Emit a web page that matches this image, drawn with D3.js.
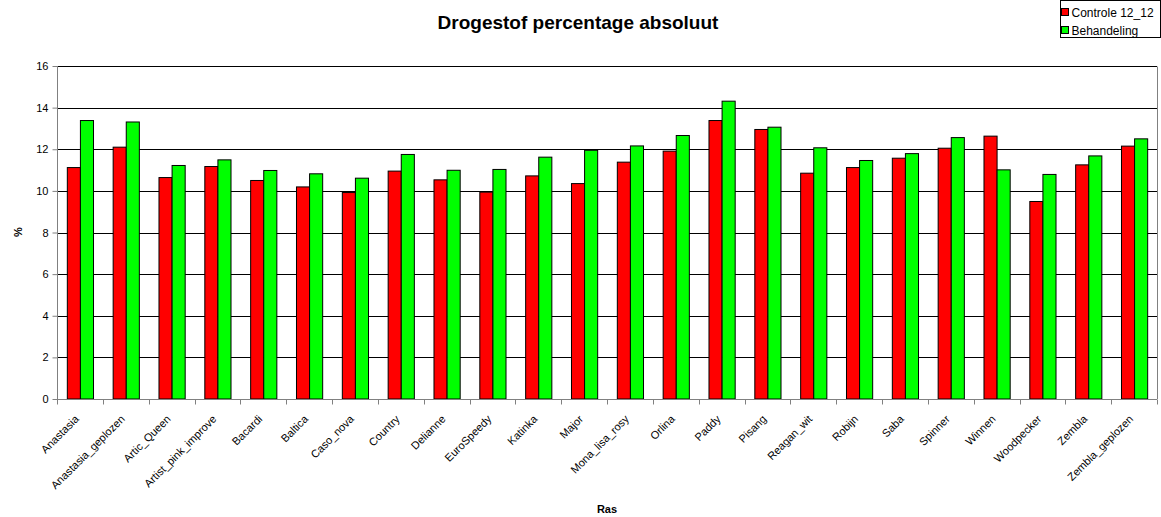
<!DOCTYPE html>
<html>
<head>
<meta charset="utf-8">
<script src="https://cdn.jsdelivr.net/npm/d3@7"></script>
<style>
  html, body { margin: 0; padding: 0; background: #fff; }
  svg { display: block; font-family: Arial, "Liberation Sans", sans-serif; }
</style>
</head>
<body>
<svg id="chart" width="1161" height="517"></svg>
<script>
// Varieties (Ras)
const categories = ["Anastasia", "Anastasia_geplozen", "Artic_Queen", "Artist_pink_improve", "Bacardi",
  "Baltica", "Caso_nova", "Country", "Delianne", "EuroSpeedy", "Katinka", "Major", "Mona_lisa_rosy",
  "Orlina", "Paddy", "Pisang", "Reagan_wit", "Robijn", "Saba", "Spinner", "Winnen", "Woodpecker",
  "Zembla", "Zembla_geplozen"];

// Dry matter percentage per variety
const controle = [11.12, 12.10, 10.64, 11.17, 10.50, 10.19, 9.92, 10.95, 10.53, 9.94, 10.72, 10.35,
  11.38, 11.91, 13.38, 12.95, 10.85, 11.12, 11.57, 12.05, 12.63, 9.49, 11.25, 12.15];
const behandeling = [13.38, 13.31, 11.22, 11.49, 10.98, 10.82, 10.61, 11.75, 10.99, 11.03, 11.62, 11.95,
  12.16, 12.66, 14.31, 13.06, 12.07, 11.46, 11.79, 12.56, 11.01, 10.79, 11.68, 12.50];

const seriesNames = ["Controle 12_12", "Behandeling"];
const seriesColors = ["#ff0000", "#00ff00"];
const yTicks = [0, 2, 4, 6, 8, 10, 12, 14, 16];

const svg = d3.select("#chart");
const plot = { left: 57, right: 1157, top: 66, bottom: 399 };

const x = d3.scaleBand().domain(categories).range([plot.left, plot.right]).paddingInner(0).paddingOuter(0);
const groupPad = 1.5 / 3.5; // gap equals 150% of a bar width
const xs = d3.scaleBand().domain([0, 1])
  .range([x.bandwidth() * groupPad / 2, x.bandwidth() * (1 - groupPad / 2)]);
const y = d3.scaleLinear().domain([0, 16]).range([plot.bottom, plot.top]);

// Horizontal gridlines
svg.append("g")
  .selectAll("line")
  .data(yTicks.filter(d => d > 0))
  .join("line")
  .attr("x1", plot.left).attr("x2", plot.right)
  .attr("y1", d => Math.round(y(d)) + 0.5).attr("y2", d => Math.round(y(d)) + 0.5)
  .attr("stroke", "#000").attr("stroke-width", 1);

// Plot area right edge
svg.append("line")
  .attr("x1", plot.right + 0.5).attr("x2", plot.right + 0.5)
  .attr("y1", Math.round(plot.top) + 0.5).attr("y2", plot.bottom)
  .attr("stroke", "#808080");

// Bars
const rows = categories.map((c, i) => ({ cat: c, vals: [controle[i], behandeling[i]] }));
const groups = svg.append("g").selectAll("g")
  .data(rows).join("g")
  .attr("transform", d => `translate(${x(d.cat)},0)`);
groups.selectAll("rect")
  .data(d => d.vals.map((v, k) => ({ v, k })))
  .join("rect")
  .attr("x", d => xs(d.k) + 0.5)
  .attr("width", xs.bandwidth())
  .attr("y", d => y(d.v))
  .attr("height", d => plot.bottom - y(d.v))
  .attr("fill", d => seriesColors[d.k])
  .attr("stroke", "#000")
  .attr("stroke-width", 1);

// Y axis
const yAxis = svg.append("g")
  .attr("transform", `translate(${plot.left + 0.5},0)`)
  .call(d3.axisLeft(y).tickValues(yTicks).tickSize(5).tickPadding(4).tickFormat(d3.format("d")));
yAxis.select(".domain").attr("stroke", "#808080").attr("d", `M0,${plot.top}V${plot.bottom}`);
yAxis.selectAll(".tick line").attr("stroke", "#808080");
yAxis.selectAll(".tick text").attr("font-size", 11).attr("fill", "#000")
  .attr("font-family", "Arial, 'Liberation Sans', sans-serif");

// X axis
const xAxis = svg.append("g")
  .attr("transform", `translate(0,${plot.bottom + 0.5})`)
  .call(d3.axisBottom(x).tickSize(0).tickFormat(""));
xAxis.select(".domain").attr("stroke", "#808080").attr("d", `M${plot.left},0H${plot.right}`);
xAxis.selectAll(".tick").remove();
// Category boundary ticks
xAxis.append("g").selectAll("line")
  .data(categories.concat(["__end"]))
  .join("line")
  .attr("x1", (d, i) => Math.round(plot.left + i * x.step()) + 0.5)
  .attr("x2", (d, i) => Math.round(plot.left + i * x.step()) + 0.5)
  .attr("y1", 0).attr("y2", 5)
  .attr("stroke", "#808080");

// Rotated category labels
svg.append("g").selectAll("text")
  .data(categories)
  .join("text")
  .attr("transform", d => `translate(${x(d) + x.bandwidth() / 2 - 3},${plot.bottom + 18}) rotate(-45)`)
  .attr("text-anchor", "end")
  .attr("dy", "0.35em")
  .attr("font-size", 11)
  .attr("fill", "#000")
  .text(d => d);

// Title
svg.append("text")
  .attr("x", 578).attr("y", 29)
  .attr("text-anchor", "middle")
  .attr("font-size", 19).attr("font-weight", "bold")
  .text("Drogestof percentage absoluut");

// Axis titles
svg.append("text")
  .attr("transform", "translate(22,232) rotate(-90)")
  .attr("text-anchor", "middle")
  .attr("font-size", 11).attr("font-weight", "bold")
  .text("%");
svg.append("text")
  .attr("x", 607).attr("y", 513)
  .attr("text-anchor", "middle")
  .attr("font-size", 11).attr("font-weight", "bold")
  .text("Ras");

// Legend
const legend = svg.append("g").attr("transform", "translate(1060.5,0.5)");
legend.append("rect")
  .attr("width", 100).attr("height", 37)
  .attr("fill", "#fff").attr("stroke", "#000");
const li = legend.selectAll("g.item")
  .data(seriesNames)
  .join("g")
  .attr("class", "item")
  .attr("transform", (d, i) => `translate(1,${8 + i * 18})`);
li.append("rect")
  .attr("width", 7).attr("height", 7)
  .attr("fill", (d, i) => seriesColors[i])
  .attr("stroke", "#000");
li.append("text")
  .attr("x", 10).attr("y", 8)
  .attr("font-size", 12)
  .text(d => d);
</script>
</body>
</html>
